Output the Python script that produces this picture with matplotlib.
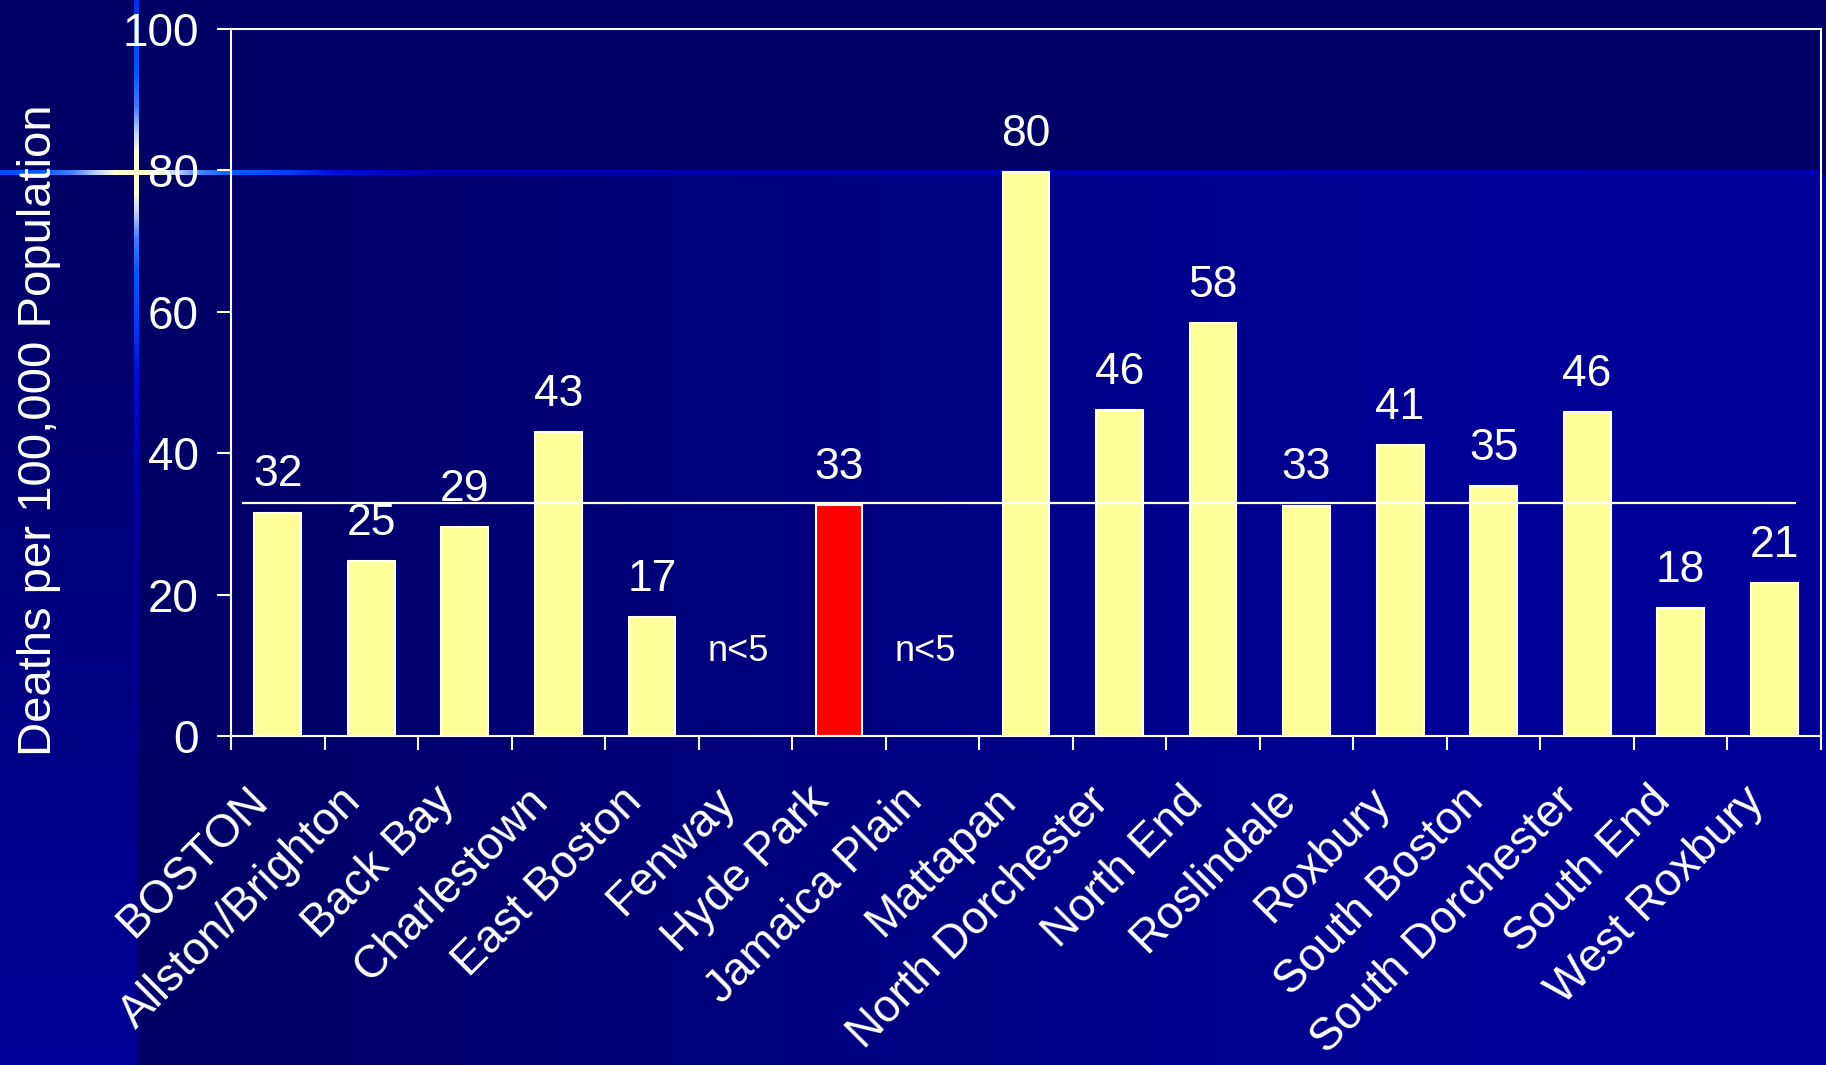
import numpy as np
import matplotlib
matplotlib.use("Agg")
import matplotlib.pyplot as plt
import matplotlib.transforms as mtransforms

# ---------------- data ----------------
neighborhoods = ["BOSTON", "Allston/Brighton", "Back Bay", "Charlestown", "East Boston",
                 "Fenway", "Hyde Park", "Jamaica Plain", "Mattapan", "North Dorchester",
                 "North End", "Roslindale", "Roxbury", "South Boston", "South Dorchester",
                 "South End", "West Roxbury"]
rates = [31.6, 24.7, 29.5, 43.0, 16.8, None, 32.7, None, 79.8, 46.1,
         58.4, 32.6, 41.1, 35.4, 45.8, 18.1, 21.6]
value_labels = ["32", "25", "29", "43", "17", "n<5", "33", "n<5", "80", "46",
                "58", "33", "41", "35", "46", "18", "21"]
highlight = "Hyde Park"
boston_rate = 32.9
y_ticks = [0, 20, 40, 60, 80, 100]
y_label = "Deaths per 100,000 Population"

# ---------------- figure ----------------
W, H = 1826, 1065
plt.rcParams['font.family'] = ['Liberation Sans', 'DejaVu Sans']
fig = plt.figure(figsize=(W / 100, H / 100), dpi=100)
fig.patch.set_facecolor((0, 0, 0.4))

# slide background (decoration only)
yy, xx = np.mgrid[0:H, 0:W].astype(float)
blue = np.full((H, W), 0.4)
line_y, line_x = 172, 136
below = yy >= 175
left = xx < line_x
t_left = np.clip((yy - 175) / (H - 175), 0, 1)
t_right = np.clip((xx - line_x) / (1500 - line_x), 0, 1)
blue = np.where(below & left, 0.4 + 0.2 * t_left, blue)
blue = np.where(below & ~left, 0.4 + 0.2 * t_right, blue)
img = np.zeros((H, W, 3))
img[..., 2] = blue

stop_d = [0, 20, 40, 65, 100, 150, 200, 300, 5000]
stop_c = [(1.0, 1.0, 0.80), (1.0, 1.0, 0.85), (0.75, 0.82, 1.0), (0.25, 0.5, 1.0),
          (0.0, 0.35, 1.0), (0.0, 0.25, 1.0), (0.0, 0.05, 0.85), (0.0, 0.0, 0.70),
          (0.0, 0.0, 0.66)]

def glow(d):
    d = np.abs(d)
    return np.stack([np.interp(d, stop_d, [c[k] for c in stop_c]) for k in range(3)], -1)

hx = np.arange(W)
hcol = glow(hx - line_x)
for dy in range(-2, 3):
    img[line_y + dy, :1822] = hcol[:1822]
vy = np.arange(H)
vcol = glow(vy - line_y)
fade = np.clip(1 - (vy - 400) / 500, 0.2, 1)[:, None]
for dx in range(-2, 3):
    base = img[:, line_x + dx].copy()
    img[:, line_x + dx] = base + (vcol - base) * fade

bg = fig.add_axes([0, 0, 1, 1], zorder=-10)
bg.imshow(img, extent=[0, W, H, 0], aspect='auto', interpolation='nearest')
bg.axis('off')

# ---------------- chart ----------------
left_px, right_px, top_px, bot_px = 231, 1821, 29, 736
ax = fig.add_axes([left_px / W, 1 - bot_px / H,
                   (right_px - left_px) / W, (bot_px - top_px) / H])
ax.set_facecolor('none')

x = np.arange(len(neighborhoods))
bx = [i for i, r in zip(x, rates) if r is not None]
bh = [r for r in rates if r is not None]
bc = ['#FF0000' if neighborhoods[i] == highlight else '#FFFF99' for i in bx]
ax.bar(bx, bh, width=0.5, color=bc, edgecolor='white', linewidth=1.5, zorder=2)

ax.hlines(boston_rate, -0.38, len(neighborhoods) - 0.77, color='white', lw=1.6, zorder=3)

for i, (r, lab) in enumerate(zip(rates, value_labels)):
    if r is None:
        ax.text(i - 0.08, 12, lab, color='white', fontsize=26, ha='center', va='center')
    else:
        ax.text(i, r + 3.7, lab, color='white', fontsize=32, ha='center', va='baseline')

ax.set_xlim(-0.5, len(neighborhoods) - 0.5)
ax.set_ylim(0, 100)
ax.set_yticks(y_ticks)
ax.set_yticklabels([str(v) for v in y_ticks])
ax.set_xticks(x)
ax.set_xticklabels(neighborhoods)
ax.set_xticks(np.arange(-0.5, len(neighborhoods)), minor=True)

for s in ax.spines.values():
    s.set_color('white')
    s.set_linewidth(1.5)

ax.tick_params(axis='y', direction='out', length=10, width=1.5, colors='white',
               labelsize=33, pad=13)
ax.tick_params(axis='x', which='major', length=0, colors='white', labelsize=33, pad=42)
ax.tick_params(axis='x', which='minor', direction='out', length=10, width=1.5, colors='white')
shift = mtransforms.ScaledTranslation(-0.17, 0, fig.dpi_scale_trans)
for lab in ax.get_xticklabels():
    lab.set_rotation(45)
    lab.set_ha('right')
    lab.set_va('center')
    lab.set_rotation_mode('anchor')
    lab.set_transform(lab.get_transform() + shift)

fig.text(39 / W, 1 - 430 / H, y_label, rotation=90, color='white', fontsize=34,
         ha='center', va='center')

fig.savefig('out.png', dpi=100, facecolor=fig.get_facecolor())
